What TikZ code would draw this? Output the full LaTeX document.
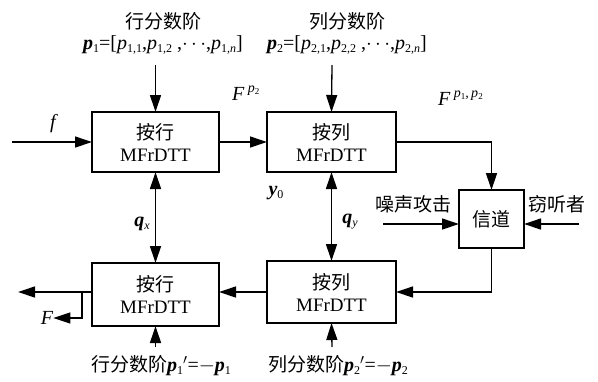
\documentclass[tikz,border=0pt]{standalone}
\usepackage{fontspec}
\setmainfont{Liberation Serif}
\newfontfamily\cjk{Noto Sans CJK SC}
\usetikzlibrary{arrows.meta}
\newcommand\bpp{\textbf{\textit{p}}}
\newcommand\sbs[1]{\raisebox{-3pt}{\fontsize{12}{12}\selectfont #1}}
\newcommand\sps[1]{\raisebox{8pt}{\fontsize{14}{14}\selectfont #1}}
\newcommand\ssb[1]{\raisebox{-2.5pt}{\fontsize{9}{9}\selectfont #1}}
\begin{document}
\begin{tikzpicture}[x=1pt,y=-1pt,
  blk/.style={draw, line width=1.3pt, minimum width=127pt, minimum height=60pt, inner sep=0pt, outer sep=0pt, align=center, font=\fontsize{19}{22}\selectfont},
  arr/.style={line width=1.3pt, -{Triangle[length=17pt,width=11pt]}},
  darr/.style={line width=1.3pt, {Triangle[length=17pt,width=11pt]}-{Triangle[length=17pt,width=11pt]}},
  lbl/.style={inner sep=0pt, font=\fontsize{20}{22}\selectfont},
  clbl/.style={inner sep=0pt, font=\fontsize{19}{20}\selectfont\cjk}]
\useasboundingbox (0,0) rectangle (598,381);
% blocks
\node[blk] (b1) at (155.5,142) {{\cjk 按行}\\MFrDTT};
\node[blk, minimum width=129pt] (b2) at (331.5,142) {{\cjk 按列}\\MFrDTT};
\node[blk, minimum height=63pt] (b3) at (155.5,294.5) {{\cjk 按行}\\MFrDTT};
\node[blk, minimum width=129pt, minimum height=62pt] (b4) at (331.5,292) {{\cjk 按列}\\MFrDTT};
\node[blk, minimum width=65pt, minimum height=58pt] (ch) at (491.5,219) {\cjk 信道};
% top labels
\node[clbl] (t1) at (163,21) {行分数阶};
\node[lbl] (f1) at (163,45) {\bpp\sbs{1}=[\textit{p}\sbs{1,1},\textit{p}\sbs{1,2} ,$\cdots$,\textit{p}\sbs{1,\textit{n}}]};
\node[clbl] (t2) at (347,21) {列分数阶};
\node[lbl] (f2) at (347,45) {\bpp\sbs{2}=[\textit{p}\sbs{2,1},\textit{p}\sbs{2,2} ,$\cdots$,\textit{p}\sbs{2,\textit{n}}]};
\coordinate (a1) at (155.5,65);
\coordinate (a2) at (332,65);
\draw[arr] (a1) -- (b1.north);
\draw[arr] (a2) -- (b2.north);
% input
\coordinate (in) at (12,142);
\node[lbl, font=\fontsize{20}{20}\selectfont\itshape] (fl) at (53,124) {f};
\draw[arr] (in) -- (b1.west);
\draw[arr] (b1.east) -- (b2.west);
\node[lbl, anchor=west] (Fp2) at (232,93) {\textit{F}\,\sps{\textit{p}\ssb{2}}};
\node[lbl, anchor=west] (Fp12) at (438,98) {\textit{F}\,\sps{\textit{p}\ssb{1}\textit{,}\,\textit{p}\ssb{2}}};
\draw[arr] (b2.east) -| (ch.north);
% channel inputs
\coordinate (nz) at (383,224);
\coordinate (ev) at (579,224);
\node[clbl] (nzl) at (413,204) {噪声攻击};
\node[clbl] (evl) at (557,204) {窃听者};
\draw[arr] (nz) -- (nz -| ch.west);
\draw[arr] (ev) -- (ev -| ch.east);
\draw[arr] (ch.south) |- (b4.east);
\draw[arr] (b4.west) -- (b4.west -| b3.east);
% vertical double arrows
\draw[darr] (b1.south) -- (b3.north);
\draw[darr] (b2.south) -- (b4.north);
\node[lbl] (qx) at (142,224) {\textbf{\textit{q}}\sbs{\textit{x}}};
\node[lbl] (qy) at (350,222) {\textbf{\textit{q}}\sbs{\textit{y}}};
\node[lbl] (y0) at (276,193) {\textbf{\textit{y}}\sbs{0}};
% output
\coordinate (out) at (18,292);
\draw[arr] (b3.west |- out) -- (out);
\node[lbl, font=\fontsize{20}{20}\selectfont\itshape] (Fl) at (47,318) {F};
\coordinate (br) at (82,292);
\draw[arr] (br) |- (Fl.east);
% bottom labels
\node[lbl] (bl1) at (161,366) {{\cjk\fontsize{19}{20}\selectfont 行分数阶}\bpp\sbs{1}$'$=$-$\bpp\sbs{1}};
\node[lbl] (bl2) at (338,366) {{\cjk\fontsize{19}{20}\selectfont 列分数阶}\bpp\sbs{2}$'$=$-$\bpp\sbs{2}};
\coordinate (c1) at (155.5,347);
\coordinate (c2) at (332,347);
\draw[arr] (c1) -- (b3.south);
\draw[arr] (c2) -- (b4.south);
\end{tikzpicture}
\end{document}
